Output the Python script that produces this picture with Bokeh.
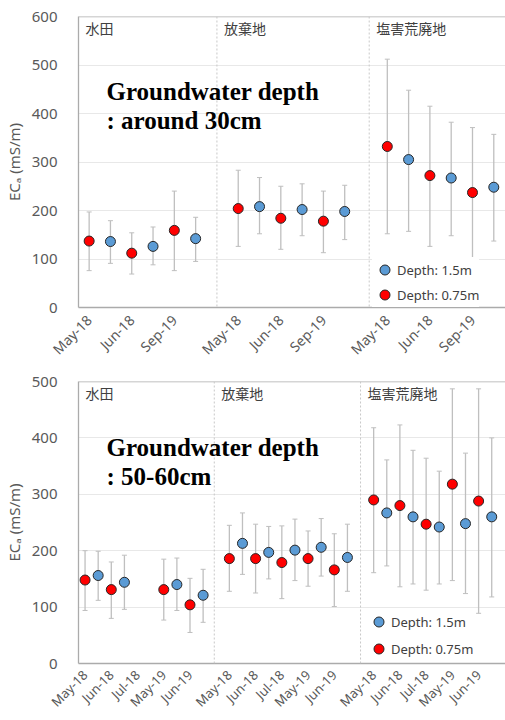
import math
from bokeh.plotting import figure
from bokeh.models import (ColumnDataSource, Whisker, TeeHead, Span, Label,
                          FixedTicker, Range1d, Legend, LegendItem)
from bokeh.layouts import column
from bokeh.embed import file_html
from bokeh.resources import INLINE

# ---------------- data ----------------
groups = ["水田", "放棄地", "塩害荒廃地"]

# Panel A: groundwater depth around 30 cm (values ordered group by group, date by date)
a_dates = ["May-18", "Jun-18", "Sep-19"]
a_red_mean = [137, 112, 159, 204, 184, 178, 332, 272, 237]
a_red_low = [76, 69, 76, 126, 120, 113, 152, 126, 102]
a_red_high = [197, 154, 240, 283, 250, 240, 512, 415, 371]
a_blue_mean = [136, 126, 142, 208, 202, 198, 305, 267, 248]
a_blue_low = [91, 88, 95, 152, 148, 140, 157, 148, 137]
a_blue_high = [179, 166, 186, 268, 255, 252, 448, 382, 357]

# Panel B: groundwater depth 50-60 cm
b_dates = ["May-18", "Jun-18", "Jul-18", "May-19", "Jun-19"]
b_red_mean = [148, 131, None, 131, 104, 186, 186, 179, 186, 166, 290, 280, 247, 318, 288]
b_red_low = [94, 80, None, 77, 55, 128, 125, 115, 137, 101, 161, 136, 130, 147, 89]
b_red_high = [200, 180, None, 185, 151, 245, 247, 244, 235, 230, 418, 423, 364, 487, 487]
b_blue_mean = [156, 144, None, 140, 121, 213, 197, 201, 206, 188, 267, 260, 242, 248, 260]
b_blue_low = [112, 96, None, 94, 73, 158, 150, 147, 155, 128, 173, 141, 141, 124, 118]
b_blue_high = [199, 192, None, 187, 167, 267, 243, 256, 257, 247, 361, 378, 341, 373, 400]

series_labels = ["Depth: 1.5m", "Depth: 0.75m"]
y_title = "ECₐ (mS/m)"

# ---------------- styles ----------------
SANS = "Noto Sans"
CJK = "Noto Sans CJK JP"
SERIF = "Liberation Serif"
BLUE = "#5B9BD5"
RED = "#FF0000"
EDGE = "#262626"
ERR = "#BFBFBF"
TXT = "#595959"
W = 505


def make_panel(dates, rm, rl, rh, bm, bl, bh, ymax, height, border_top,
               border_bottom, xend, note_lines, legend_spacing, legend_loc,
               sep_shift, xfont, xstandoff):
    nd = len(dates)
    per = 2 * nd + 1

    def build(mean, low, high, off):
        xs, ys, lo, hi = [], [], [], []
        for g in range(len(groups)):
            for d in range(nd):
                i = g * nd + d
                if mean[i] is None:
                    continue
                xs.append(g * per + 2 * d + off)
                ys.append(mean[i]); lo.append(low[i]); hi.append(high[i])
        return ColumnDataSource(dict(x=xs, y=ys, lo=lo, hi=hi))

    src_r = build(rm, rl, rh, 0)
    src_b = build(bm, bl, bh, 1)

    p = figure(width=W, height=height, x_range=Range1d(-0.5, xend),
               y_range=Range1d(0, ymax), output_backend="svg",
               toolbar_location=None, min_border_left=75, min_border_right=0,
               min_border_top=border_top, min_border_bottom=border_bottom)
    p.outline_line_color = None
    p.background_fill_color = "white"
    p.xgrid.grid_line_color = None
    p.ygrid.grid_line_color = "#E8E8E8"
    p.ygrid.ticker = FixedTicker(ticks=list(range(0, ymax + 1, 100)))

    # axes
    p.yaxis.ticker = FixedTicker(ticks=list(range(0, ymax + 1, 100)))
    ticks = [g * per + 2 * d for g in range(len(groups)) for d in range(nd)]
    p.xaxis.ticker = FixedTicker(ticks=ticks)
    p.xaxis.major_label_overrides = {t: dates[i % nd] for i, t in enumerate(ticks)}
    p.xaxis.major_label_orientation = math.pi / 4
    for ax in (p.xaxis, p.yaxis):
        ax.major_tick_line_color = None
        ax.minor_tick_line_color = None
        ax.axis_line_color = "#ABABAB"
        ax.axis_line_width = 1.3
        ax.major_label_text_font = SANS
        ax.major_label_text_color = TXT
    p.yaxis.major_label_text_font_size = "15px"
    p.yaxis.major_label_standoff = 15
    p.yaxis.axis_label = y_title
    p.yaxis.axis_label_text_font = SANS
    p.yaxis.axis_label_text_font_size = "15px"
    p.yaxis.axis_label_text_font_style = "normal"
    p.yaxis.axis_label_text_color = TXT
    p.yaxis.axis_label_standoff = 5
    p.xaxis.major_label_text_font_size = xfont
    p.xaxis.major_label_standoff = xstandoff

    # top border
    p.add_layout(Span(location=ymax, dimension="width", line_color="#ABABAB",
                      line_width=1.3))

    # group separators and names
    starts = [-0.5] + [g * per - 1 + sep_shift[g - 1] for g in range(1, len(groups))]
    for g, s in enumerate(starts):
        if g > 0:
            p.add_layout(Span(location=s, dimension="height", line_color="#C8C8C8",
                              line_dash="2 2", line_width=1))
        p.add_layout(Label(x=s, y=ymax, x_offset=7, y_offset=-1, text=groups[g],
                           text_baseline="top", text_font=CJK,
                           text_font_size="14px", text_color="#404040"))

    # error bars
    for src in (src_r, src_b):
        p.add_layout(Whisker(source=src, base="x", upper="hi", lower="lo",
                             line_color=ERR, line_width=1.3,
                             upper_head=TeeHead(size=5, line_color=ERR, line_width=1),
                             lower_head=TeeHead(size=5, line_color=ERR, line_width=1)))

    rb = p.scatter("x", "y", source=src_b, size=10, fill_color=BLUE,
                   line_color=EDGE, line_width=1)
    rr = p.scatter("x", "y", source=src_r, size=10, fill_color=RED,
                   line_color=EDGE, line_width=1)

    legend = Legend(items=[LegendItem(label=series_labels[0], renderers=[rb]),
                           LegendItem(label=series_labels[1], renderers=[rr])],
                    location=legend_loc, padding=0, spacing=legend_spacing,
                    margin=0, glyph_width=25, glyph_height=25, label_height=25,
                    label_standoff=0, border_line_color=None,
                    background_fill_color="white", background_fill_alpha=1.0,
                    label_text_font=SANS, label_text_font_size="13px",
                    label_text_color="#404040")
    p.add_layout(legend)

    # annotation text
    for k, line in enumerate(note_lines):
        p.add_layout(Label(x=28, y=216 - 28.7 * k, x_units="screen", y_units="screen",
                           text=line, text_font=SERIF, text_font_style="bold",
                           text_font_size="25px", text_color="black",
                           text_baseline="alphabetic"))
    return p


p1 = make_panel(a_dates, a_red_mean, a_red_low, a_red_high, a_blue_mean,
                a_blue_low, a_blue_high, 600, 370, 16, 63, 19.55,
                ["Groundwater depth", ": around 30cm"], 0, (294, 0), [0.0, 0.15],
                "14px", 4)
p2 = make_panel(b_dates, b_red_mean, b_red_low, b_red_high, b_blue_mean,
                b_blue_low, b_blue_high, 500, 350, 11, 57, 32.05,
                ["Groundwater depth", ": 50-60cm"], 2, (288, 2), [-0.15, 0.0],
                "13px", 3)

layout = column(p1, p2, spacing=0)
open("out.html", "w").write(file_html(layout, INLINE))
